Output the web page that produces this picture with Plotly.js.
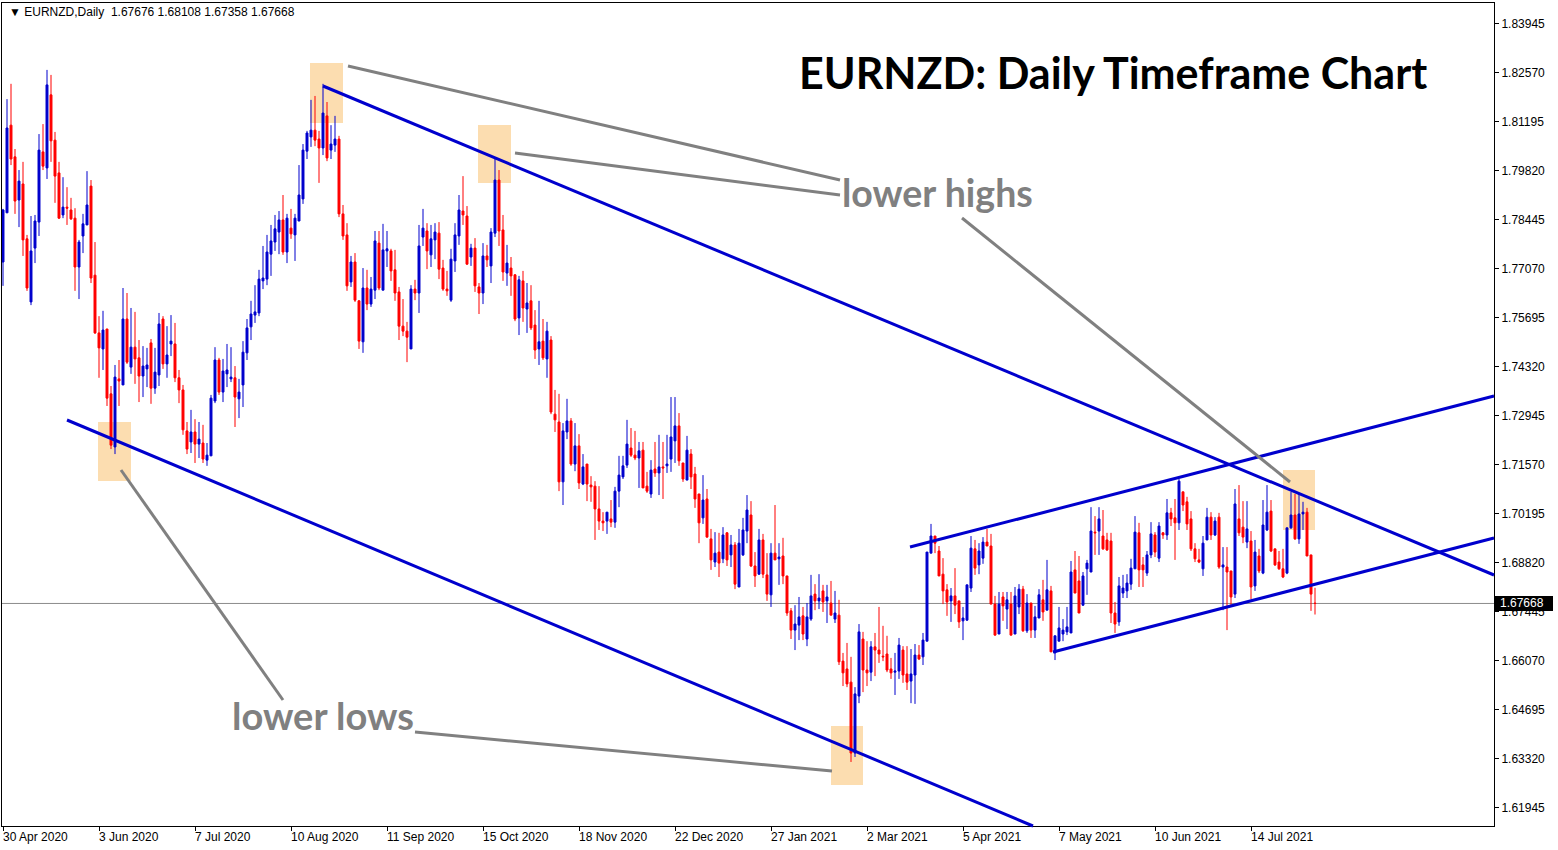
<!DOCTYPE html>
<html>
<head>
<meta charset="utf-8">
<script src="https://cdn.plot.ly/plotly-3.0.1.min.js"></script>
<style>
html,body{margin:0;padding:0;background:#fff;}
#chart{width:1558px;height:850px;}
</style>
</head>
<body>
<div id="chart"></div>
<script>
// Daily candles, 30 Apr 2020 .. 5 Aug 2021 (one entry per trading day)
const openP = [
1.7725,1.7863,1.8109,1.8020,1.7899,1.7944,1.7790,1.7613,1.7764,1.7837,
1.8034,1.7989,1.8194,1.8067,1.7975,1.7857,1.7879,1.7871,1.7848,1.7711,
1.7798,1.7829,1.7938,1.7688,1.7526,1.7481,1.7537,1.7355,1.7206,1.7397,
1.7380,1.7565,1.7430,1.7486,1.7456,1.7405,1.7425,1.7498,1.7371,1.7408,
1.7565,1.7439,1.7495,1.7495,1.7400,1.7366,1.7251,1.7220,1.7248,1.7214,
1.7217,1.7169,1.7181,1.7335,1.7450,1.7360,1.7411,1.7397,1.7400,1.7341,
1.7380,1.7470,1.7543,1.7576,1.7582,1.7672,1.7677,1.7747,1.7781,1.7809,
1.7843,1.7753,1.7820,1.7801,1.7840,1.7902,1.8036,1.8076,1.8095,1.8070,
1.8045,1.8135,1.8039,1.8053,1.8070,1.7860,1.7801,1.7669,1.7725,1.7616,
1.7501,1.7652,1.7607,1.7646,1.7778,1.7646,1.7756,1.7756,1.7703,1.7641,
1.7545,1.7531,1.7481,1.7649,1.7638,1.7795,1.7812,1.7745,1.7787,1.7806,
1.7708,1.7649,1.7618,1.7728,1.7798,1.7868,1.7854,1.7739,1.7764,1.7655,
1.7638,1.7742,1.7714,1.7806,1.7955,1.7815,1.7694,1.7708,1.7689,1.7568,
1.7672,1.7593,1.7616,1.7548,1.7481,1.7503,1.7453,1.7506,1.7298,1.7276,
1.7108,1.7248,1.7279,1.7158,1.7209,1.7102,1.7158,1.7099,1.7096,1.7032,
1.6998,1.6998,1.7004,1.6995,1.7082,1.7122,1.7155,1.7203,1.7183,1.7175,
1.7197,1.7096,1.7074,1.7144,1.7133,1.7150,1.7153,1.7172,1.7223,1.7265,
1.7161,1.7113,1.7186,1.7130,1.7074,1.7007,1.7060,1.6948,1.6883,1.6911,
1.6892,1.6965,1.6903,1.6931,1.6813,1.6903,1.6970,1.7015,1.6872,1.6849,
1.6945,1.6847,1.6791,1.6908,1.6892,1.6900,1.6844,1.6746,1.6692,1.6706,
1.6732,1.6667,1.6723,1.6793,1.6774,1.6802,1.6774,1.6768,1.6723,1.6734,
1.6605,1.6583,1.6546,1.6347,1.6507,1.6667,1.6580,1.6574,1.6645,1.6636,
1.6619,1.6625,1.6583,1.6574,1.6577,1.6636,1.6569,1.6549,1.6566,1.6622,
1.6617,1.6661,1.6908,1.6956,1.6914,1.6849,1.6805,1.6774,1.6788,1.6774,
1.6718,1.6720,1.6810,1.6920,1.6875,1.6894,1.6939,1.6928,1.6765,1.6681,
1.6785,1.6751,1.6765,1.6681,1.6757,1.6807,1.6690,1.6768,1.6692,1.6726,
1.6777,1.6748,1.6802,1.6628,1.6661,1.6681,1.6687,1.6684,1.6861,1.6830,
1.6762,1.6864,1.6855,1.6967,1.6970,1.6956,1.6945,1.6942,1.6740,1.6715,
1.6796,1.6802,1.6821,1.6864,1.6965,1.6875,1.6852,1.6903,1.6959,1.6894,
1.6965,1.6959,1.7021,1.7007,1.6993,1.7080,1.7052,1.7004,1.6920,1.6889,
1.6864,1.6945,1.7009,1.6959,1.7009,1.6869,1.6869,1.6858,1.6793,1.7004,
1.6981,1.6939,1.6942,1.6816,1.6900,1.6852,1.6973,1.7026,1.6920,1.6883,
1.6864,1.6852,1.6979,1.7015,1.6948,1.7018,1.7023,1.6903,1.67676
];
const highP = [
1.7874,1.8182,1.8225,1.8042,1.7983,1.8006,1.7801,1.7854,1.7857,1.8084,
1.8112,1.8264,1.8250,1.8090,1.8006,1.7963,1.7935,1.7905,1.7876,1.7787,
1.7860,1.7980,1.7955,1.7781,1.7573,1.7588,1.7537,1.7377,1.7436,1.7450,
1.7652,1.7638,1.7596,1.7585,1.7506,1.7489,1.7484,1.7509,1.7484,1.7582,
1.7573,1.7545,1.7576,1.7554,1.7422,1.7380,1.7276,1.7310,1.7284,1.7276,
1.7268,1.7217,1.7352,1.7486,1.7456,1.7453,1.7495,1.7486,1.7433,1.7397,
1.7503,1.7565,1.7616,1.7660,1.7703,1.7770,1.7801,1.7829,1.7857,1.7868,
1.7913,1.7860,1.7874,1.7860,1.7997,1.8056,1.8093,1.8180,1.8191,1.8093,
1.8225,1.8174,1.8109,1.8135,1.8079,1.7885,1.7834,1.7742,1.7750,1.7618,
1.7708,1.7703,1.7683,1.7812,1.7812,1.7832,1.7812,1.7762,1.7759,1.7655,
1.7621,1.7557,1.7660,1.7675,1.7829,1.7874,1.7834,1.7829,1.7834,1.7837,
1.7731,1.7700,1.7762,1.7834,1.7913,1.7966,1.7882,1.7776,1.7792,1.7666,
1.7778,1.7773,1.7820,1.8017,1.7983,1.7857,1.7773,1.7739,1.7691,1.7686,
1.7700,1.7666,1.7660,1.7590,1.7616,1.7565,1.7557,1.7517,1.7366,1.7355,
1.7273,1.7341,1.7287,1.7273,1.7242,1.7186,1.7158,1.7124,1.7110,1.7096,
1.7023,1.7023,1.7057,1.7094,1.7181,1.7181,1.7282,1.7259,1.7251,1.7220,
1.7220,1.7136,1.7169,1.7220,1.7240,1.7220,1.7240,1.7346,1.7346,1.7301,
1.7161,1.7237,1.7200,1.7150,1.7074,1.7127,1.7088,1.6976,1.6967,1.6965,
1.6981,1.6967,1.6959,1.6939,1.6976,1.7007,1.7071,1.7054,1.6911,1.6976,
1.6962,1.6908,1.6936,1.7043,1.6936,1.6951,1.6844,1.6754,1.6762,1.6785,
1.6757,1.6768,1.6847,1.6821,1.6849,1.6819,1.6819,1.6830,1.6802,1.6777,
1.6628,1.6656,1.6617,1.6532,1.6709,1.6687,1.6661,1.6661,1.6684,1.6757,
1.6704,1.6676,1.6614,1.6628,1.6670,1.6647,1.6647,1.6639,1.6653,1.6650,
1.6684,1.6911,1.6990,1.6956,1.6928,1.6894,1.6821,1.6810,1.6866,1.6774,
1.6757,1.6819,1.6956,1.6945,1.6936,1.6953,1.6976,1.6962,1.6788,1.6799,
1.6799,1.6799,1.6799,1.6813,1.6821,1.6816,1.6793,1.6768,1.6760,1.6807,
1.6833,1.6889,1.6816,1.6676,1.6757,1.6723,1.6757,1.6886,1.6914,1.6900,
1.6855,1.6889,1.7037,1.7012,1.7037,1.7029,1.6965,1.6965,1.6771,1.6841,
1.6847,1.6849,1.6892,1.7012,1.6993,1.6897,1.6914,1.6995,1.6967,1.6995,
1.6967,1.7060,1.7035,1.7060,1.7116,1.7080,1.7066,1.7026,1.6936,1.6920,
1.6956,1.7035,1.7023,1.7009,1.7021,1.6925,1.6925,1.6858,1.7088,1.7099,
1.7054,1.7054,1.6970,1.6945,1.6920,1.7057,1.7099,1.7057,1.6920,1.6914,
1.6920,1.6979,1.7080,1.7074,1.7074,1.7052,1.7035,1.6903,1.68108
];
const lowP = [
1.7658,1.7863,1.7997,1.7860,1.7823,1.7742,1.7644,1.7604,1.7722,1.7798,
1.7983,1.7958,1.8006,1.7891,1.7846,1.7848,1.7829,1.7843,1.7644,1.7621,
1.7750,1.7829,1.7666,1.7523,1.7400,1.7422,1.7321,1.7200,1.7186,1.7321,
1.7380,1.7439,1.7411,1.7383,1.7332,1.7346,1.7374,1.7327,1.7355,1.7377,
1.7425,1.7400,1.7461,1.7388,1.7329,1.7240,1.7186,1.7189,1.7161,1.7175,
1.7161,1.7153,1.7181,1.7329,1.7352,1.7332,1.7374,1.7388,1.7262,1.7287,
1.7318,1.7450,1.7506,1.7554,1.7573,1.7649,1.7660,1.7686,1.7756,1.7747,
1.7745,1.7722,1.7790,1.7728,1.7840,1.7888,1.8014,1.8048,1.8050,1.7947,
1.8025,1.8008,1.8014,1.8034,1.7851,1.7787,1.7644,1.7655,1.7613,1.7481,
1.7470,1.7590,1.7599,1.7621,1.7646,1.7646,1.7711,1.7672,1.7616,1.7506,
1.7517,1.7444,1.7481,1.7618,1.7582,1.7770,1.7705,1.7711,1.7733,1.7677,
1.7644,1.7630,1.7613,1.7697,1.7773,1.7829,1.7717,1.7714,1.7641,1.7579,
1.7607,1.7711,1.7666,1.7795,1.7770,1.7672,1.7658,1.7630,1.7559,1.7520,
1.7557,1.7526,1.7534,1.7453,1.7436,1.7450,1.7400,1.7298,1.7248,1.7082,
1.7043,1.7228,1.7153,1.7138,1.7088,1.7099,1.7054,1.7052,1.6945,1.6973,
1.6970,1.6962,1.6981,1.6979,1.7037,1.7116,1.7147,1.7178,1.7169,1.7091,
1.7091,1.7077,1.7063,1.7122,1.7071,1.7060,1.7133,1.7136,1.7161,1.7153,
1.7108,1.7113,1.7088,1.7035,1.6936,1.6990,1.6951,1.6861,1.6869,1.6841,
1.6880,1.6872,1.6869,1.6807,1.6813,1.6900,1.6936,1.6869,1.6813,1.6847,
1.6838,1.6774,1.6757,1.6889,1.6819,1.6821,1.6732,1.6667,1.6636,1.6664,
1.6664,1.6647,1.6718,1.6748,1.6751,1.6743,1.6712,1.6734,1.6712,1.6594,
1.6535,1.6532,1.6322,1.6336,1.6487,1.6518,1.6535,1.6549,1.6563,1.6600,
1.6605,1.6574,1.6555,1.6510,1.6555,1.6544,1.6524,1.6487,1.6485,1.6608,
1.6594,1.6661,1.6908,1.6908,1.6844,1.6765,1.6732,1.6715,1.6737,1.6698,
1.6664,1.6718,1.6799,1.6847,1.6849,1.6878,1.6928,1.6765,1.6676,1.6681,
1.6718,1.6695,1.6676,1.6681,1.6737,1.6687,1.6684,1.6670,1.6670,1.6726,
1.6718,1.6748,1.6631,1.6608,1.6661,1.6661,1.6678,1.6684,1.6796,1.6740,
1.6760,1.6791,1.6855,1.6903,1.6903,1.6917,1.6914,1.6712,1.6684,1.6704,
1.6782,1.6782,1.6805,1.6864,1.6813,1.6813,1.6844,1.6894,1.6897,1.6883,
1.6948,1.6945,1.6984,1.6889,1.6973,1.7026,1.6973,1.6914,1.6883,1.6880,
1.6844,1.6945,1.6945,1.6956,1.6864,1.6748,1.6692,1.6760,1.6782,1.6956,
1.6936,1.6922,1.6779,1.6802,1.6852,1.6849,1.6970,1.6911,1.6872,1.6861,
1.6838,1.6849,1.6976,1.6945,1.6934,1.6973,1.6900,1.6746,1.67358
];
const closeP = [
1.7871,1.8101,1.8014,1.7896,1.7952,1.7787,1.7652,1.7756,1.7840,1.8039,
1.7994,1.8222,1.8065,1.7966,1.7848,1.7879,1.7876,1.7846,1.7711,1.7781,
1.7832,1.7885,1.7680,1.7526,1.7484,1.7534,1.7343,1.7211,1.7402,1.7391,
1.7565,1.7444,1.7486,1.7453,1.7405,1.7433,1.7436,1.7371,1.7416,1.7551,
1.7439,1.7464,1.7503,1.7400,1.7366,1.7254,1.7200,1.7248,1.7214,1.7228,
1.7172,1.7183,1.7343,1.7450,1.7360,1.7419,1.7422,1.7402,1.7346,1.7360,
1.7472,1.7540,1.7579,1.7585,1.7677,1.7680,1.7753,1.7784,1.7818,1.7843,
1.7753,1.7848,1.7804,1.7848,1.7913,1.8039,1.8087,1.8095,1.8067,1.8045,
1.8143,1.8017,1.8056,1.8070,1.7860,1.7798,1.7658,1.7725,1.7618,1.7503,
1.7652,1.7607,1.7649,1.7784,1.7652,1.7759,1.7762,1.7700,1.7638,1.7545,
1.7531,1.7514,1.7649,1.7638,1.7770,1.7820,1.7756,1.7790,1.7809,1.7705,
1.7649,1.7644,1.7733,1.7801,1.7871,1.7857,1.7719,1.7764,1.7658,1.7638,
1.7742,1.7731,1.7809,1.7955,1.7812,1.7697,1.7722,1.7686,1.7565,1.7675,
1.7596,1.7610,1.7540,1.7478,1.7501,1.7456,1.7531,1.7304,1.7282,1.7108,
1.7251,1.7279,1.7158,1.7209,1.7105,1.7150,1.7102,1.7094,1.7032,1.6998,
1.6993,1.7023,1.6995,1.7082,1.7127,1.7153,1.7214,1.7183,1.7175,1.7195,
1.7091,1.7082,1.7141,1.7133,1.7150,1.7147,1.7158,1.7234,1.7265,1.7167,
1.7116,1.7197,1.7122,1.7060,1.6993,1.7057,1.6953,1.6889,1.6908,1.6880,
1.6959,1.6889,1.6931,1.6821,1.6936,1.6973,1.7029,1.6872,1.6844,1.6945,
1.6849,1.6793,1.6908,1.6889,1.6897,1.6844,1.6740,1.6692,1.6709,1.6729,
1.6681,1.6729,1.6788,1.6774,1.6782,1.6771,1.6785,1.6734,1.6740,1.6603,
1.6572,1.6541,1.6347,1.6513,1.6687,1.6580,1.6572,1.6645,1.6636,1.6625,
1.6617,1.6580,1.6572,1.6577,1.6650,1.6566,1.6546,1.6569,1.6622,1.6611,
1.6664,1.6911,1.6956,1.6936,1.6844,1.6802,1.6771,1.6788,1.6762,1.6715,
1.6726,1.6819,1.6922,1.6866,1.6914,1.6939,1.6928,1.6765,1.6678,1.6765,
1.6760,1.6777,1.6678,1.6788,1.6807,1.6690,1.6768,1.6692,1.6729,1.6791,
1.6743,1.6805,1.6631,1.6676,1.6698,1.6692,1.6701,1.6855,1.6796,1.6740,
1.6844,1.6880,1.6970,1.6965,1.7004,1.6920,1.6917,1.6740,1.6709,1.6816,
1.6810,1.6824,1.6866,1.6967,1.6861,1.6861,1.6903,1.6962,1.6911,1.6984,
1.6959,1.7021,1.7004,1.6993,1.7110,1.7043,1.6990,1.6920,1.6892,1.6883,
1.6936,1.7009,1.6959,1.6998,1.6869,1.6875,1.6855,1.6785,1.7046,1.6965,
1.6953,1.6976,1.6813,1.6911,1.6858,1.6987,1.7023,1.6914,1.6875,1.6864,
1.6841,1.6979,1.7015,1.6948,1.7018,1.7023,1.6900,1.6793,1.67668
];

// Date axis labels and the trading-day index where each one sits
const dateLabels = ['30 Apr 2020','3 Jun 2020','7 Jul 2020','10 Aug 2020','11 Sep 2020','15 Oct 2020',
  '18 Nov 2020','22 Dec 2020','27 Jan 2021','2 Mar 2021','5 Apr 2021','7 May 2021','10 Jun 2021','14 Jul 2021'];
const dateTickIdx = [0,24,48,72,96,120,144,168,192,216,240,264,288,312];

// Price axis labels
const priceTickText = ['1.61945','1.63320','1.64695','1.66070','1.67445','1.68820','1.70195','1.71570',
  '1.72945','1.74320','1.75695','1.77070','1.78445','1.79820','1.81195','1.82570','1.83945'];
const priceTickVals = priceTickText.map(Number);

const symbolHeader = 'EURNZD,Daily';
const lastBar = {open:'1.67676', high:'1.68108', low:'1.67358', close:'1.67668'};
const lastPrice = 1.67668;

const dayIdx = openP.map((_, i) => i);

// ---- pixel helpers for drawing objects (plot area 2..1494 x 3..826) ----
const PL = 2, PR = 1494, PT = 3, PB = 826;
const X = px => (px - PL) / (PR - PL);
const Y = py => 1 - (py - PT) / (PB - PT);

const BLUE = '#0000CD', RED = '#FF0000', GRAY = '#808080', PEACH = '#FCDDB0';

const shapes = [];
[[310,63,343,123],[478,125,511,183],[98,422,131,481],[831,726,863,785],[1283,470,1315,530]].forEach(r => {
  shapes.push({type:'rect', xref:'paper', yref:'paper', x0:X(r[0]), x1:X(r[2]), y0:Y(r[3]), y1:Y(r[1]),
    fillcolor:PEACH, line:{width:0}, layer:'below'});
});
// trend lines
[[323,86,1494,575],[67,420,1033,826],[910,547,1494,396],[1053,652,1494,538]].forEach(l => {
  shapes.push({type:'line', xref:'paper', yref:'paper', x0:X(l[0]), y0:Y(l[1]), x1:X(l[2]), y1:Y(l[3]),
    line:{color:BLUE, width:3}, layer:'above'});
});
// pointer lines
[[348,66,840,180],[515,153,840,195],[962,218,1290,482],[121,470,283,700],[415,732,832,771]].forEach(l => {
  shapes.push({type:'line', xref:'paper', yref:'paper', x0:X(l[0]), y0:Y(l[1]), x1:X(l[2]), y1:Y(l[3]),
    line:{color:GRAY, width:3}, layer:'above'});
});
// current price line
shapes.push({type:'line', xref:'paper', yref:'y', x0:0, x1:1, y0:lastPrice, y1:lastPrice,
  line:{color:'#8c8c8c', width:1}, layer:'below'});
// price box on the axis
shapes.push({type:'rect', xref:'paper', yref:'paper', x0:X(1495), x1:X(1553), y0:Y(611), y1:Y(596),
  fillcolor:'#000000', line:{width:0}, layer:'above'});

const annotations = [];
const NB = '\u00A0';
annotations.push({xref:'paper', yref:'paper', x:X(7), y:Y(12), xanchor:'left', yanchor:'middle', showarrow:false,
  text:'\u25BC' + NB + symbolHeader + NB + NB + lastBar.open + NB + lastBar.high + NB + lastBar.low + NB + lastBar.close,
  font:{family:'Liberation Sans, Arial, sans-serif', size:12, color:'#000'}});
annotations.push({xref:'paper', yref:'paper', x:X(797), y:Y(72), xanchor:'left', yanchor:'middle', showarrow:false,
  text:'EURNZD: Daily Timeframe Chart', font:{family:'Lato, sans-serif', size:43, weight:'bold', color:'#000'}});
annotations.push({xref:'paper', yref:'paper', x:X(840), y:Y(193), xanchor:'left', yanchor:'middle', showarrow:false,
  text:'lower highs', font:{family:'Lato, sans-serif', size:37.5, weight:'bold', color:GRAY}});
annotations.push({xref:'paper', yref:'paper', x:X(230), y:Y(715), xanchor:'left', yanchor:'middle', showarrow:false,
  text:'lower lows', font:{family:'Lato, sans-serif', size:38, weight:'bold', color:GRAY}});
annotations.push({xref:'paper', yref:'y', x:X(1498), y:lastPrice, xanchor:'left', yanchor:'middle', showarrow:false,
  text:lastBar.close, font:{family:'Liberation Sans, Arial, sans-serif', size:12, color:'#fff'}});
dateLabels.forEach((t, k) => {
  annotations.push({xref:'x', yref:'paper', x:dateTickIdx[k], y:Y(837), xanchor:'left', yanchor:'middle',
    xshift:-2, showarrow:false, text:t, font:{family:'Liberation Sans, Arial, sans-serif', size:12, color:'#000'}});
});

const trace = {
  type:'candlestick', x:dayIdx, open:openP, high:highP, low:lowP, close:closeP,
  increasing:{line:{color:BLUE, width:1}, fillcolor:BLUE},
  decreasing:{line:{color:RED, width:1}, fillcolor:RED},
  whiskerwidth:0, hoverinfo:'skip', showlegend:false
};

const layout = {
  width:1558, height:850,
  margin:{l:PL, r:1558-PR, t:PT, b:850-PB},
  paper_bgcolor:'#fff', plot_bgcolor:'#fff',
  showlegend:false,
  xaxis:{range:[-0.25, 372.75], tickvals:dateTickIdx, showticklabels:false, ticks:'outside', ticklen:4,
    tickcolor:'#000', showgrid:false, zeroline:false, showline:true, mirror:true, linecolor:'#000', linewidth:1,
    rangeslider:{visible:false}, fixedrange:true},
  yaxis:{side:'right', range:[1.61423, 1.84518], tickvals:priceTickVals, ticktext:priceTickText,
    ticks:'outside', ticklen:4, tickcolor:'#000', showgrid:false, zeroline:false, showline:true, mirror:true,
    linecolor:'#000', linewidth:1, tickfont:{family:'Liberation Sans, Arial, sans-serif', size:12, color:'#000'},
    fixedrange:true},
  shapes:shapes,
  annotations:annotations
};

Plotly.newPlot('chart', [trace], layout, {displayModeBar:false, staticPlot:true});
</script>
</body>
</html>
